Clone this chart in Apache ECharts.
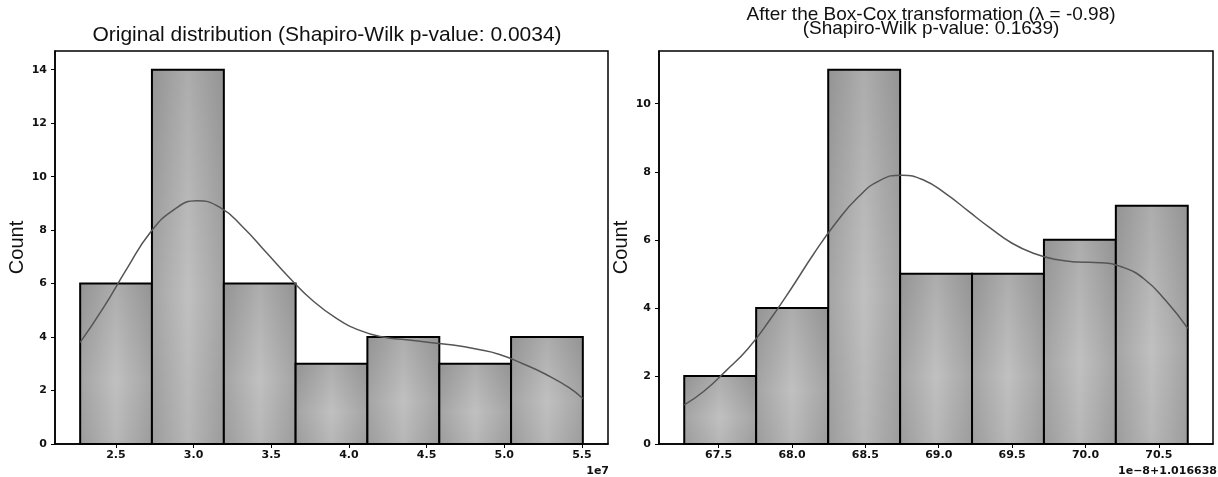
<!DOCTYPE html>
<html>
<head>
<meta charset="utf-8">
<script src="https://cdn.jsdelivr.net/npm/echarts@6/dist/echarts.min.js"></script>
<style>
  html, body { margin: 0; padding: 0; background: #fff; }
  #chart { width: 1218px; height: 477px; }
</style>
</head>
<body>
<div id="chart"></div>
<script>
// 左图：原始分布（单位 1e7）
var leftEdges = [2.270, 2.732, 3.195, 3.657, 4.119, 4.582, 5.044, 5.506];
var leftCounts = [6, 14, 6, 3, 4, 3, 4];
var leftKdeX = [2.27, 2.42, 2.57, 2.72, 2.87, 3.02, 3.17, 3.32, 3.47, 3.62, 3.77, 3.92, 4.07, 4.22, 4.37, 4.52, 4.67, 4.82, 4.97, 5.12, 5.27, 5.42, 5.506];
var leftKdeY = [3.8, 5.1, 6.55, 7.9, 8.75, 9.1, 8.85, 8.1, 7.15, 6.2, 5.35, 4.7, 4.25, 4.0, 3.9, 3.8, 3.7, 3.55, 3.35, 3.0, 2.6, 2.1, 1.7];
var leftXTicks = [2.5, 3.0, 3.5, 4.0, 4.5, 5.0, 5.5];
var leftYTicks = [0, 2, 4, 6, 8, 10, 12, 14];

// 右图：Box-Cox 变换后（单位 1e-8 + 1.016638）
var rightEdges = [67.266, 67.756, 68.247, 68.737, 69.227, 69.717, 70.207, 70.697];
var rightCounts = [2, 4, 11, 5, 5, 6, 7];
var rightKdeX = [67.266, 67.40, 67.55, 67.70, 67.85, 68.00, 68.15, 68.30, 68.45, 68.60, 68.75, 68.90, 69.05, 69.20, 69.35, 69.50, 69.65, 69.80, 69.95, 70.10, 70.25, 70.40, 70.55, 70.697];
var rightKdeY = [1.15, 1.55, 2.15, 2.8, 3.65, 4.6, 5.6, 6.5, 7.25, 7.75, 7.9, 7.75, 7.35, 6.85, 6.35, 5.9, 5.6, 5.42, 5.35, 5.33, 5.2, 4.85, 4.2, 3.4];
var rightXTicks = [67.5, 68.0, 68.5, 69.0, 69.5, 70.0, 70.5];
var rightYTicks = [0, 2, 4, 6, 8, 10];

var tickFont = { fontSize: 11, fontWeight: 'bold', color: '#111', fontFamily: 'DejaVu Sans' };

function binData(edges, counts) {
  var out = [];
  for (var i = 0; i < counts.length; i++) out.push([edges[i], edges[i + 1], counts[i]]);
  return out;
}
function pairs(xs, ys) {
  return xs.map(function (x, i) { return [x, ys[i]]; });
}

function renderBin(params, api) {
  var p0 = api.coord([api.value(0), api.value(2)]);
  var p1 = api.coord([api.value(1), 0]);
  var shape = { x: p0[0], y: p0[1], width: p1[0] - p0[0], height: p1[1] - p0[1] };
  return {
    type: 'group',
    children: [{
      type: 'rect', shape: shape,
      style: {
        fill: {
          type: 'linear', x: 0, y: 0, x2: 1, y2: 0,
          colorStops: [{ offset: 0, color: '#a4a4a4' }, { offset: 0.5, color: '#c0c0c0' }, { offset: 1, color: '#a4a4a4' }]
        }
      }
    }, {
      type: 'rect', shape: shape,
      style: {
        fill: {
          type: 'linear', x: 0, y: 0, x2: 0, y2: 1,
          colorStops: [{ offset: 0, color: 'rgba(0,0,0,0.1)' }, { offset: 0.6, color: 'rgba(0,0,0,0)' }, { offset: 1, color: 'rgba(0,0,0,0.05)' }]
        },
        stroke: '#000',
        lineWidth: 2
      }
    }]
  };
}

function xAxisOf(idx, min, max, ticks) {
  return {
    type: 'value', gridIndex: idx, min: min, max: max,
    splitLine: { show: false },
    axisLine: { show: true, onZero: false, lineStyle: { color: '#000', width: 1.5 } },
    axisTick: { show: true, inside: false, length: 4, customValues: ticks, lineStyle: { color: '#000' } },
    axisLabel: Object.assign({ margin: 6, customValues: ticks, formatter: function (v) { return v.toFixed(1); } }, tickFont)
  };
}
function yAxisOf(idx, max, ticks, gap) {
  return {
    type: 'value', gridIndex: idx, min: 0, max: max,
    name: 'Count', nameLocation: 'middle', nameGap: gap,
    nameTextStyle: { fontSize: 20, color: '#111', fontFamily: 'Liberation Sans' },
    splitLine: { show: false },
    axisLine: { show: true, lineStyle: { color: '#000', width: 1.5 } },
    axisTick: { show: true, inside: false, length: 4, customValues: ticks, lineStyle: { color: '#000' } },
    axisLabel: Object.assign({ margin: 8, customValues: ticks }, tickFont)
  };
}

var option = {
  animation: false,
  backgroundColor: '#fff',
  title: [{
    text: 'Original distribution (Shapiro-Wilk p-value: 0.0034)',
    left: 322, top: 20, textAlign: 'center',
    textStyle: { fontSize: 21, fontWeight: 'normal', color: '#111', fontFamily: 'Liberation Sans' }
  }, {
    text: 'After the Box-Cox transformation (λ = -0.98)\n(Shapiro-Wilk p-value: 0.1639)',
    left: 926, top: 3, textAlign: 'center',
    textStyle: { fontSize: 19, lineHeight: 14, fontWeight: 'normal', color: '#111', fontFamily: 'Liberation Sans' }
  }],
  grid: [
    { left: 55, width: 553, top: 51, height: 393, show: true, borderColor: '#000', borderWidth: 1.5, backgroundColor: 'transparent' },
    { left: 659, width: 554, top: 51, height: 393, show: true, borderColor: '#000', borderWidth: 1.5, backgroundColor: 'transparent' }
  ],
  xAxis: [
    xAxisOf(0, 2.108, 5.668, leftXTicks),
    xAxisOf(1, 67.094, 70.869, rightXTicks)
  ],
  yAxis: [
    yAxisOf(0, 14.7, leftYTicks, 25),
    yAxisOf(1, 11.55, rightYTicks, 19)
  ],
  graphic: [
    { type: 'text', right: 609, top: 466, style: { text: '1e7', fontSize: 11, fontWeight: 'bold', fill: '#111', fontFamily: 'DejaVu Sans' } },
    { type: 'text', right: 1, top: 466, style: { text: '1e\u22128+1.016638', fontSize: 11, fontWeight: 'bold', fill: '#111', fontFamily: 'DejaVu Sans' } }
  ],
  series: [{
    type: 'custom', xAxisIndex: 0, yAxisIndex: 0,
    renderItem: renderBin, encode: { x: [0, 1], y: 2 },
    data: binData(leftEdges, leftCounts)
  }, {
    type: 'line', xAxisIndex: 0, yAxisIndex: 0,
    data: pairs(leftKdeX, leftKdeY), smooth: true, showSymbol: false,
    lineStyle: { color: '#555', width: 1.5 }, z: 5
  }, {
    type: 'custom', xAxisIndex: 1, yAxisIndex: 1,
    renderItem: renderBin, encode: { x: [0, 1], y: 2 },
    data: binData(rightEdges, rightCounts)
  }, {
    type: 'line', xAxisIndex: 1, yAxisIndex: 1,
    data: pairs(rightKdeX, rightKdeY), smooth: true, showSymbol: false,
    lineStyle: { color: '#555', width: 1.5 }, z: 5
  }]
};

var myChart = echarts.init(document.getElementById('chart'));
myChart.setOption(option);
</script>
</body>
</html>
